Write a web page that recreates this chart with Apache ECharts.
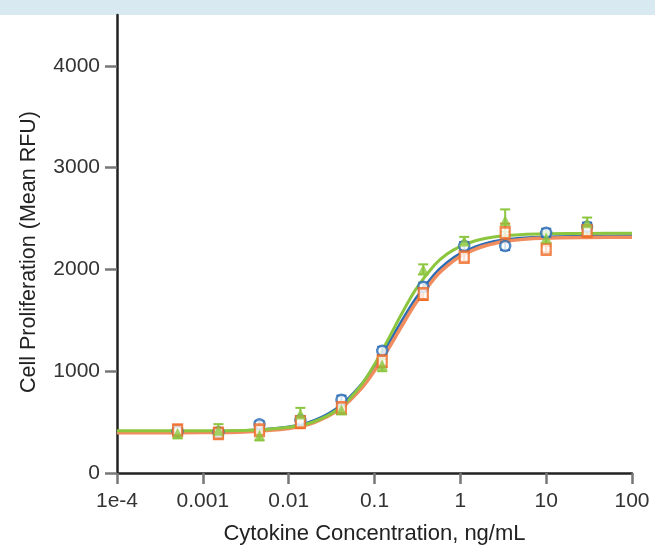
<!DOCTYPE html>
<html>
<head>
<meta charset="utf-8">
<script src="https://cdn.jsdelivr.net/npm/echarts@6/dist/echarts.min.js"></script>
<style>
  html, body { margin: 0; padding: 0; background: #fff; }
  #chart { width: 655px; height: 550px; }
</style>
</head>
<body>
<div id="chart"></div>
<script>
  // measured points (ng/mL)
  const concs = [0.000508, 0.00152, 0.00457, 0.0137, 0.0412, 0.123, 0.370, 1.11, 3.33, 10, 30]
  const blueVals = [410, 400, 480, 520, 720, 1200, 1830, 2230, 2230, 2360, 2420]
  const blueErr = [30, 30, 30, 40, 40, 40, 40, 40, 40, 40, 40]
  const orangeVals = [420, 390, 420, 500, 640, 1100, 1760, 2120, 2360, 2200, 2380]
  const orangeErr = [50, 50, 40, 60, 60, 60, 60, 40, 90, 30, 60]
  const greenVals = [390, 420, 370, 580, 620, 1060, 2000, 2280, 2480, 2310, 2460]
  const greenErr = [50, 60, 50, 60, 40, 60, 50, 40, 110, 60, 50]

  // fitted curves
  const fitX = [0.0001, 0.0003, 0.001, 0.003, 0.01, 0.02, 0.04, 0.07, 0.1, 0.15, 0.2, 0.3, 0.5, 0.7, 1, 1.5, 2, 3, 5, 10, 30, 100]
  const blueFit = [405, 405, 407, 415, 452, 517, 660, 867, 1048, 1289, 1469, 1708, 1950, 2066, 2155, 2222, 2255, 2286, 2307, 2320, 2327, 2330]
  const orangeFit = [395, 396, 397, 404, 438, 498, 632, 830, 1005, 1240, 1420, 1665, 1915, 2035, 2130, 2200, 2235, 2270, 2293, 2308, 2314, 2316]
  const greenFit = [415, 415, 416, 418, 449, 506, 644, 864, 1067, 1340, 1540, 1799, 2043, 2151, 2227, 2282, 2307, 2328, 2342, 2350, 2354, 2355]

  const yTicks = [0, 1000, 2000, 3000, 4000]
  const xTickLabels = ['1e-4', '0.001', '0.01', '0.1', '1', '10', '100']

  const pairs = (xs, ys) => xs.map((x, i) => [x, ys[i]])
  const errData = (vals, errs) => concs.map((x, i) => [x, vals[i] - errs[i], vals[i] + errs[i]])

  const errRender = color => (params, api) => {
    const lo = api.coord([api.value(0), api.value(1)])
    const hi = api.coord([api.value(0), api.value(2)])
    const w = 5
    const style = { stroke: color, lineWidth: 2 }
    return {
      type: 'group',
      children: [
        { type: 'line', shape: { x1: lo[0], y1: lo[1], x2: hi[0], y2: hi[1] }, style },
        { type: 'line', shape: { x1: lo[0] - w, y1: lo[1], x2: lo[0] + w, y2: lo[1] }, style },
        { type: 'line', shape: { x1: hi[0] - w, y1: hi[1], x2: hi[0] + w, y2: hi[1] }, style }
      ]
    }
  }

  const BLUE = '#2a6db5'
  const ORANGE = '#ef6a25'
  const GREEN = '#8cc63f'
  const font = 'Liberation Sans'

  const chart = echarts.init(document.getElementById('chart'))
  chart.setOption({
    animation: false,
    textStyle: { fontFamily: font },
    graphic: [
      { type: 'rect', shape: { x: 0, y: 0, width: 655, height: 15 }, style: { fill: '#d9e9f2' } }
    ],
    grid: { left: 117, right: 23, top: 15, bottom: 75 },
    xAxis: {
      type: 'log',
      logBase: 10,
      min: 0.0001,
      max: 100,
      name: 'Cytokine Concentration, ng/mL',
      nameLocation: 'middle',
      nameGap: 50,
      nameTextStyle: { color: '#222', fontSize: 22, fontFamily: font },
      axisLine: { lineStyle: { color: '#222', width: 2.5 } },
      axisTick: { length: 11, lineStyle: { color: '#777', width: 2.5 } },
      axisLabel: {
        color: '#333', fontSize: 21, margin: 18,
        formatter: v => xTickLabels[Math.round(Math.log10(v)) + 4]
      },
      minorTick: { show: false },
      splitLine: { show: false }
    },
    yAxis: {
      type: 'value',
      min: 0,
      max: 4500,
      interval: 1000,
      name: 'Cell Proliferation (Mean RFU)',
      nameLocation: 'middle',
      nameGap: 77,
      nameTextStyle: { color: '#222', fontSize: 21.5, fontFamily: font, padding: [0, 16, 0, 0] },
      axisLine: { show: true, lineStyle: { color: '#222', width: 2.5 } },
      axisTick: { show: true, length: 12, customValues: yTicks, lineStyle: { color: '#777', width: 2.5 } },
      axisLabel: { color: '#333', fontSize: 21, margin: 17, customValues: yTicks, formatter: v => String(v) },
      splitLine: { show: false }
    },
    series: [
      { type: 'line', data: pairs(fitX, blueFit), smooth: 0.3, showSymbol: false, lineStyle: { color: BLUE, width: 3 }, z: 2 },
      { type: 'line', data: pairs(fitX, orangeFit), smooth: 0.3, showSymbol: false, lineStyle: { color: '#f08c5e', width: 3.5 }, z: 2 },
      { type: 'line', data: pairs(fitX, greenFit), smooth: 0.3, showSymbol: false, lineStyle: { color: GREEN, width: 3 }, z: 2 },
      { type: 'custom', data: errData(blueVals, blueErr), renderItem: errRender(BLUE), encode: { x: 0, y: [1, 2] }, z: 3 },
      { type: 'custom', data: errData(orangeVals, orangeErr), renderItem: errRender(ORANGE), encode: { x: 0, y: [1, 2] }, z: 3 },
      { type: 'custom', data: errData(greenVals, greenErr), renderItem: errRender(GREEN), encode: { x: 0, y: [1, 2] }, z: 3 },
      { type: 'scatter', data: pairs(concs, blueVals), symbol: 'circle', symbolSize: 10, itemStyle: { color: '#fff', borderColor: BLUE, borderWidth: 2.5 }, z: 4 },
      { type: 'scatter', data: pairs(concs, orangeVals), symbol: 'rect', symbolSize: [9, 11], itemStyle: { color: '#fff', borderColor: ORANGE, borderWidth: 2.5 }, z: 4 },
      { type: 'scatter', data: pairs(concs, greenVals), symbol: 'triangle', symbolSize: 11, itemStyle: { color: GREEN }, z: 4 }
    ]
  })
</script>
</body>
</html>
